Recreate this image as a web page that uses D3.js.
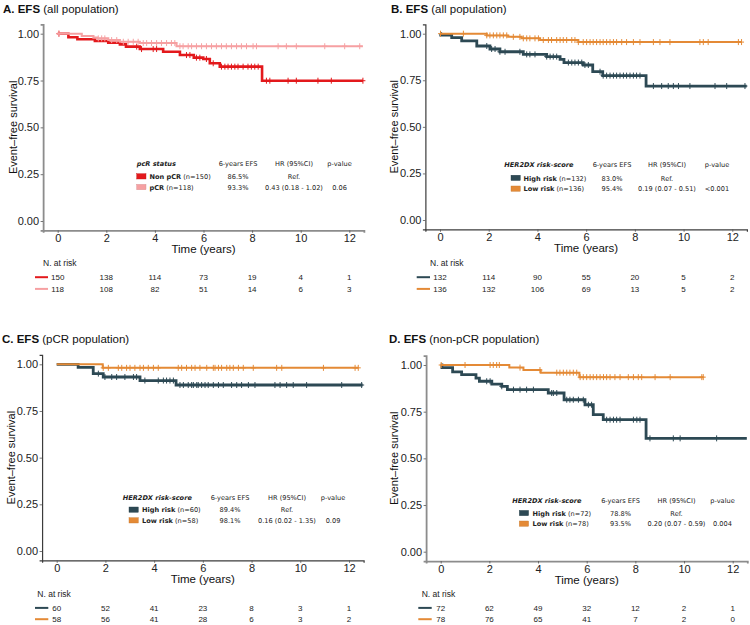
<!DOCTYPE html>
<html><head><meta charset="utf-8">
<script src="https://cdn.jsdelivr.net/npm/d3@7"></script>
<style>body{margin:0;background:#fff}svg{display:block}</style>
</head><body>
<svg id="chart" width="750" height="625"></svg>
<script>
// ---------- shared axis data ----------
const timeTicks = [0, 2, 4, 6, 8, 10, 12];
const survTicks = [0, 0.25, 0.5, 0.75, 1];
const survTickLabels = ["0.00", "0.25", "0.50", "0.75", "1.00"];
const riskTimes = [0, 2, 4, 6, 8, 10, 12];
const legendColumns = ["6-years EFS", "HR (95%CI)", "p-value"];

// ---------- panel texts ----------
const titleBold = ["A. EFS", "B. EFS", "C. EFS", "D. EFS"];
const titleRest = [" (all population)", " (all population)", " (pCR population)", " (non-pCR population)"];
const legendHeaders = ["pcR status", "HER2DX risk-score", "HER2DX risk-score", "HER2DX risk-score"];
const groupNames = [["Non pCR", "pCR"], ["High risk", "Low risk"], ["High risk", "Low risk"], ["High risk", "Low risk"]];
const groupN = [["(n=150)", "(n=118)"], ["(n=132)", "(n=136)"], ["(n=60)", "(n=58)"], ["(n=72)", "(n=78)"]];
const efs6 = [["86.5%", "93.3%"], ["83.0%", "95.4%"], ["89.4%", "98.1%"], ["78.8%", "93.5%"]];
const hrText = [["Ref.", "0.43 (0.18 - 1.02)"], ["Ref.", "0.19 (0.07 - 0.51)"], ["Ref.", "0.16 (0.02 - 1.35)"], ["Ref.", "0.20 (0.07 - 0.59)"]];
const pText = [["", "0.06"], ["", "<0.001"], ["", "0.09"], ["", "0.004"]];

// ---------- Panel A: pCR status ----------
const aNonPcrSteps = [[0,1],[0.44,0.981],[0.81,0.970],[1.53,0.961],[2.08,0.952],[2.56,0.943],[2.81,0.931],[3.38,0.918],[4.34,0.904],[5.03,0.886],[5.60,0.872],[5.99,0.865],[6.26,0.842],[6.67,0.824],[8.41,0.749],[12.56,0.749]];
const aNonPcrCens = [0.05,3.25,3.45,3.93,4.07,5.30,5.44,5.71,5.85,6.12,6.40,6.74,6.88,7.01,7.15,7.29,7.42,7.63,7.83,7.97,8.11,8.25,8.59,8.73,9.48,9.82,10.71,11.26,12.56];
const aPcrSteps = [[0,1],[0.99,0.988],[1.47,0.979],[1.62,0.975],[2.08,0.966],[2.56,0.957],[3.38,0.950],[4.89,0.933],[12.56,0.933]];
const aPcrCens = [0.05,1.67,1.81,1.94,2.22,2.43,2.70,2.90,3.11,3.31,3.52,3.66,3.86,4.07,4.27,4.48,4.68,4.82,5.03,5.16,5.37,5.51,5.71,5.92,6.12,6.33,6.53,6.74,6.94,7.15,7.36,7.56,7.77,8.04,8.18,9.07,9.41,9.82,10.99,11.81,12.43];
const aRiskNonPcr = [150, 138, 114, 73, 19, 4, 1];
const aRiskPcr = [118, 108, 82, 51, 14, 6, 3];

// ---------- Panel B: HER2DX all population ----------
const bHighSteps = [[0,1],[0.03,0.992],[0.48,0.979],[0.89,0.962],[1.51,0.934],[2.05,0.918],[2.46,0.903],[3.42,0.889],[4.38,0.877],[4.93,0.862],[5.09,0.845],[5.88,0.832],[6.27,0.796],[6.68,0.775],[8.46,0.719],[12.59,0.719]];
const bHighCens = [1.92,2.12,2.26,2.46,2.67,3.28,3.56,3.69,3.90,4.38,4.52,4.65,4.79,5.27,5.41,5.54,5.68,5.82,5.95,6.09,6.57,6.70,6.84,6.98,7.12,7.25,7.39,7.53,7.66,7.80,7.94,8.07,8.21,8.76,9.10,9.37,9.58,9.79,10.26,11.29,11.77,12.52];
const bLowSteps = [[0,1],[1.92,0.991],[2.80,0.983],[3.35,0.975],[4.11,0.966],[5.68,0.955],[12.38,0.955]];
const bLowCens = [0.02,0.96,1.92,2.05,2.19,2.33,2.46,2.60,2.74,3.01,3.28,3.42,3.56,3.69,3.90,4.04,4.24,4.45,4.58,4.79,4.93,5.06,5.20,5.41,5.54,5.68,5.88,6.02,6.16,6.29,6.43,6.57,6.70,6.84,6.98,7.12,7.25,7.46,7.66,7.94,8.21,8.76,9.03,9.44,10.67,10.81,11.01,12.25,12.38];
const bRiskHigh = [132, 114, 90, 55, 20, 5, 2];
const bRiskLow = [136, 132, 106, 69, 13, 5, 2];

// ---------- Panel C: HER2DX pCR population ----------
const cHighSteps = [[0,1],[0.88,0.983],[1.50,0.950],[1.91,0.932],[3.42,0.913],[4.90,0.889],[12.56,0.889]];
const cHighCens = [1.71,1.98,2.26,2.46,2.80,3.15,3.28,3.62,4.17,4.38,4.51,4.65,4.79,5.06,5.20,5.40,5.54,5.61,5.75,5.81,5.95,6.09,6.22,6.43,6.64,6.84,7.18,7.39,7.59,7.87,8.14,8.96,9.17,9.44,9.71,10.26,11.70,12.52];
const cLowSteps = [[0,1],[1.89,0.981],[12.38,0.981]];
const cLowCens = [1.91,2.12,2.53,2.67,2.87,3.01,3.21,3.42,3.56,3.76,3.97,4.17,4.99,5.13,5.33,5.54,5.68,5.88,6.16,6.43,6.50,6.64,6.77,6.98,7.11,7.25,7.46,7.66,8.07,9.03,9.24,10.95,12.25,12.38];
const cRiskHigh = [60, 52, 41, 23, 8, 3, 1];
const cRiskLow = [58, 56, 41, 28, 6, 3, 2];

// ---------- Panel D: HER2DX non-pCR population ----------
const dHighSteps = [[0,1],[0.05,0.986],[0.49,0.963],[0.86,0.948],[1.45,0.930],[1.59,0.913],[2.10,0.898],[2.51,0.886],[2.74,0.868],[4.42,0.850],[5.07,0.814],[5.93,0.787],[6.27,0.734],[6.68,0.707],[8.44,0.607],[12.58,0.607]];
const dHighCens = [1.89,2.03,2.51,2.99,3.26,3.53,3.81,4.56,4.63,4.77,5.18,5.31,5.45,5.66,5.86,6.07,6.20,6.82,6.96,7.10,7.23,7.37,7.92,8.06,8.19,8.60,9.56,9.84,11.34];
const dLowSteps = [[0,1],[2.82,0.986],[3.40,0.973],[4.11,0.959],[5.70,0.935],[10.79,0.935]];
const dLowCens = [0.02,1.0,2.03,2.16,2.30,2.41,3.26,4.08,4.77,4.90,5.04,5.18,5.31,5.45,5.59,5.73,5.86,6.00,6.14,6.27,6.41,6.55,6.69,6.82,6.96,7.16,7.37,7.71,7.92,8.12,8.26,8.81,9.43,10.73,10.79];
const dRiskHigh = [72, 62, 49, 32, 12, 2, 1];
const dRiskLow = [78, 76, 65, 41, 7, 2, 0];

// ---------- styles ----------
const RED = "#e3191c", PINK = "#f6a0a2", SLATE = "#2d4954", ORANGE = "#e48a36";

const panels = [
  {steps:[aNonPcrSteps, aPcrSteps], cens:[aNonPcrCens, aPcrCens], risk:[aRiskNonPcr, aRiskPcr], colors:[RED, PINK], widths:[2.6, 2.1],
   L:{x0:57.7,x12:349.3,y0:221,y1:33.7,axisColor:"#8c8c8c",axisW:1.8,titleX:3,titleY:12.5,ylabX:16.5,nriskX:43,nriskY:266,riskY:[280,291.7],segX:[35,48],legX:136.7,legHeadY:165.5,legRowY:[179,189.7],colX:[238,294,339.5],swX:136.7,labX:149.5}},
  {steps:[bHighSteps, bLowSteps], cens:[bHighCens, bLowCens], risk:[bRiskHigh, bRiskLow], colors:[SLATE, ORANGE], widths:[2.8, 2.0],
   L:{x0:440,x12:732.3,y0:220,y1:33.7,axisColor:"#3c3c3c",axisW:1.2,titleX:391,titleY:12.5,ylabX:398.3,nriskX:430,nriskY:266,riskY:[280,291.7],segX:[416.7,430],legX:504.3,legHeadY:167,legRowY:[180.5,191.3],colX:[612,667,717],swX:511,labX:523.5}},
  {steps:[cHighSteps, cLowSteps], cens:[cHighCens, cLowCens], risk:[cRiskHigh, cRiskLow], colors:[SLATE, ORANGE], widths:[2.8, 2.0],
   L:{x0:56.7,x12:349,y0:551,y1:364.3,axisColor:"#3c3c3c",axisW:1.2,titleX:2,titleY:342.5,ylabX:15,nriskX:37.3,nriskY:596.7,riskY:[610.7,622],segX:[35,48.3],legX:122.7,legHeadY:499.5,legRowY:[512.3,523],colX:[230,287,333],swX:129,labX:142}},
  {steps:[dHighSteps, dLowSteps], cens:[dHighCens, dLowCens], risk:[dRiskHigh, dRiskLow], colors:[SLATE, ORANGE], widths:[2.8, 2.0],
   L:{x0:440.7,x12:732.7,y0:551.7,y1:365,axisColor:"#8c8c8c",axisW:1.8,titleX:389,titleY:342.5,ylabX:398.3,nriskX:421.7,nriskY:596.7,riskY:[610.7,622],segX:[418.3,431.7],legX:512.3,legHeadY:503,legRowY:[515.7,526.3],colX:[620.5,676.5,722.5],swX:519.3,labX:532.5}}
];

const svg = d3.select("#chart");
const AXF = "'Liberation Sans', Arial, sans-serif";
const LGF = "'DejaVu Sans', Verdana, sans-serif";

function survAt(steps, t) {
  let s = steps[0][1];
  for (const [ti, si] of steps) { if (ti <= t) s = si; else break; }
  return s;
}

panels.forEach((p, pi) => {
  const L = p.L;
  const kx = (L.x12 - L.x0) / 12;
  const x = d3.scaleLinear().domain([-0.6, 12.6]).range([L.x0 - 0.6 * kx, L.x12 + 0.6 * kx]);
  const ky = (L.y0 - L.y1);
  const y = d3.scaleLinear().domain([-0.05, 1.05]).range([L.y0 + 0.05 * ky, L.y1 - 0.05 * ky]);
  const g = svg.append("g");

  // title
  const t = g.append("text").attr("x", L.titleX).attr("y", L.titleY)
    .attr("font-family", AXF).attr("font-size", 11.5).attr("fill", "#111");
  t.append("tspan").attr("font-weight", "bold").text(titleBold[pi]);
  t.append("tspan").text(titleRest[pi]);

  // axes
  const ya = g.append("g").attr("transform", `translate(${x(-0.6)},0)`)
    .call(d3.axisLeft(y).tickValues(survTicks).tickFormat((d, i) => survTickLabels[i]).tickSizeOuter(0).tickSize(2.5).tickPadding(1.5));
  const xa = g.append("g").attr("transform", `translate(0,${y(-0.05)})`)
    .call(d3.axisBottom(x).tickValues(timeTicks).tickFormat(d => d).tickSizeOuter(0).tickSize(2.5).tickPadding(1.5));
  [ya, xa].forEach(a => {
    a.select(".domain").attr("stroke", L.axisColor).attr("stroke-width", L.axisW);
    a.selectAll(".tick line").attr("stroke", "#555").attr("stroke-width", 0.8);
    a.selectAll(".tick text").attr("font-family", AXF).attr("font-size", 11).attr("fill", "#222");
  });

  // axis titles
  g.append("text").attr("x", (x(-0.6) + x(12.6)) / 2).attr("y", y(-0.05) + 22.5)
    .attr("text-anchor", "middle").attr("font-family", AXF).attr("font-size", 11.5).attr("fill", "#111").text("Time (years)");
  g.append("text").attr("transform", `translate(${L.ylabX},${(y(-0.05) + y(1.05)) / 2}) rotate(-90)`)
    .attr("text-anchor", "middle").attr("font-family", AXF).attr("font-size", 11).attr("fill", "#111").text("Event\u2013free survival");

  // curves
  const line = d3.line().x(d => x(d[0])).y(d => y(d[1])).curve(d3.curveStepAfter);
  [0, 1].forEach(si => {
    g.append("path").datum(p.steps[si]).attr("d", line).attr("fill", "none")
      .attr("stroke", p.colors[si]).attr("stroke-width", p.widths[si]);
    const cg = g.append("g").attr("stroke", p.colors[si]).attr("stroke-width", 1);
    p.cens[si].forEach(ct => {
      const cx = x(ct), cy = y(survAt(p.steps[si], ct));
      cg.append("line").attr("x1", cx).attr("x2", cx).attr("y1", cy - 3).attr("y2", cy + 3);
      cg.append("line").attr("x1", cx - 2.5).attr("x2", cx + 2.5).attr("y1", cy).attr("y2", cy);
    });
  });

  // legend table
  const lg = g.append("g").attr("font-family", LGF).attr("font-size", 6.6).attr("fill", "#222");
  lg.append("text").attr("x", L.legX).attr("y", L.legHeadY).attr("font-weight", "bold").attr("font-style", "italic").text(legendHeaders[pi]);
  legendColumns.forEach((c, ci) => {
    lg.append("text").attr("x", L.colX[ci]).attr("y", L.legHeadY).attr("text-anchor", "middle").text(c);
  });
  [0, 1].forEach(si => {
    const ry = L.legRowY[si];
    lg.append("rect").attr("x", L.swX).attr("y", ry - 5.3).attr("width", 9.3).attr("height", 5.3)
      .attr("fill", p.colors[si]).attr("stroke", d3.color(p.colors[si]).darker(0.4)).attr("stroke-width", 0.4);
    const tx = lg.append("text").attr("x", L.labX).attr("y", ry);
    tx.append("tspan").attr("font-weight", "bold").text(groupNames[pi][si]);
    tx.append("tspan").text(" " + groupN[pi][si]);
    lg.append("text").attr("x", L.colX[0]).attr("y", ry).attr("text-anchor", "middle").text(efs6[pi][si]);
    lg.append("text").attr("x", L.colX[1]).attr("y", ry).attr("text-anchor", "middle").text(hrText[pi][si]);
    lg.append("text").attr("x", L.colX[2]).attr("y", ry).attr("text-anchor", "middle").text(pText[pi][si]);
  });

  // risk table
  g.append("text").attr("x", L.nriskX).attr("y", L.nriskY).attr("font-family", AXF).attr("font-size", 8.5).attr("fill", "#222").text("N. at risk");
  [0, 1].forEach(si => {
    const ry = L.riskY[si];
    g.append("line").attr("x1", L.segX[0]).attr("x2", L.segX[1]).attr("y1", ry - 2.8).attr("y2", ry - 2.8)
      .attr("stroke", p.colors[si]).attr("stroke-width", 2);
    riskTimes.forEach((rt, ri) => {
      g.append("text").attr("x", x(rt)).attr("y", ry).attr("text-anchor", "middle")
        .attr("font-family", AXF).attr("font-size", 8).attr("fill", "#222").text(p.risk[si][ri]);
    });
  });
});
</script>
</body></html>
